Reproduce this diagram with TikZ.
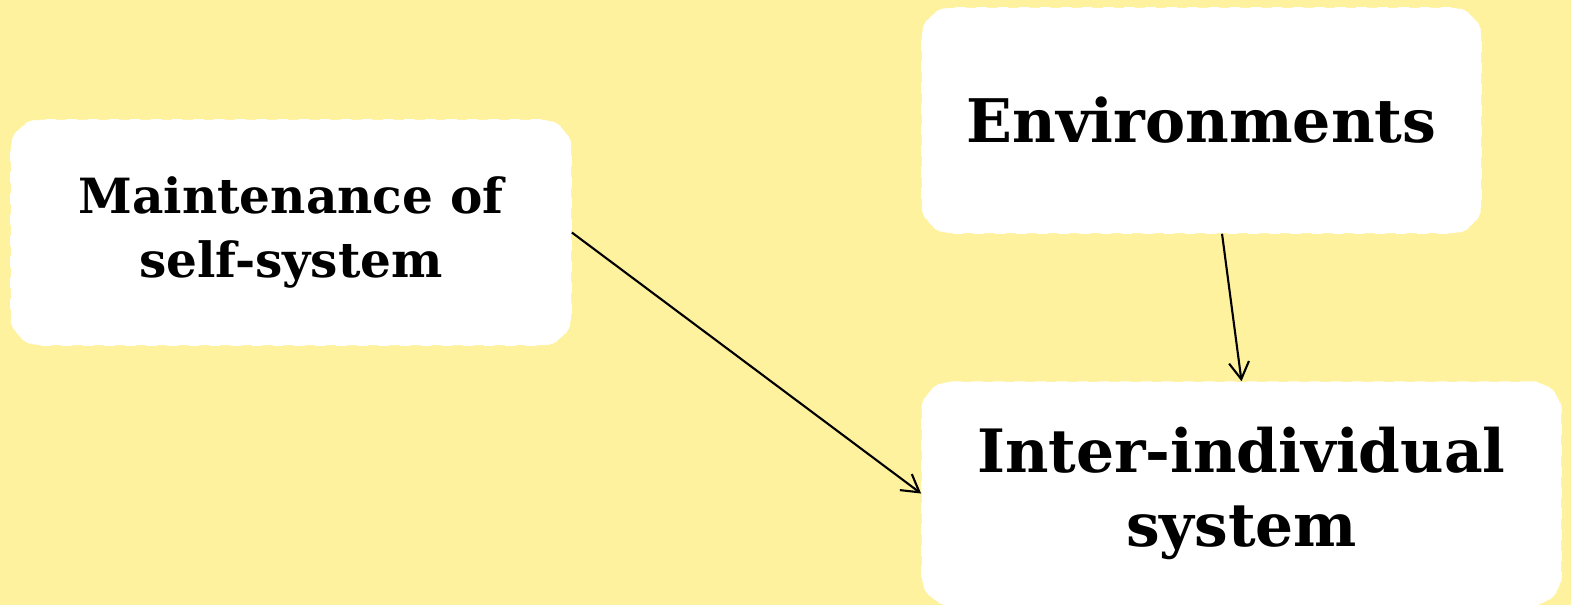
\documentclass[tikz,border=0pt]{standalone}
\usepackage{fontspec}
\setmainfont{DejaVu Serif}
\usetikzlibrary{arrows.meta}
\definecolor{pagebg}{HTML}{FFF29F}
\tikzset{
  card/.style={fill=white, draw=white, dashed, rounded corners=0.3cm,
    align=center, inner sep=0pt, font=\bfseries},
  link/.style={draw=black, line width=0.6pt,
    -{Straight Barb[length=0.17cm, width=0.2cm, line width=0.6pt]}},
}
\begin{document}
\begin{tikzpicture}[x=0.01cm, y=-0.01cm]
  \fill[pagebg] (0,0) rectangle (1571,605);
  \useasboundingbox (0,0) rectangle (1571,605);

  \node[card, minimum width=5.6cm, minimum height=2.25cm,
        font=\bfseries\fontsize{13.8}{18}\selectfont]
    (self) at (291,232.5) {Maintenance of\\self-system};
  \node[card, minimum width=5.59cm, minimum height=2.25cm,
        font=\bfseries\fontsize{17.1}{21}\selectfont]
    (env) at (1201.5,120.5) {Environments};
  \node[card, minimum width=6.39cm, minimum height=2.23cm,
        font=\bfseries\fontsize{17}{21}\selectfont]
    (inter) at (1241.5,493.5) {Inter-individual\\system};

  \draw[link] (self.east) -- (inter.west);
  \draw[link] ([xshift=0.205cm]env.south) -- (inter.north);
\end{tikzpicture}
\end{document}
